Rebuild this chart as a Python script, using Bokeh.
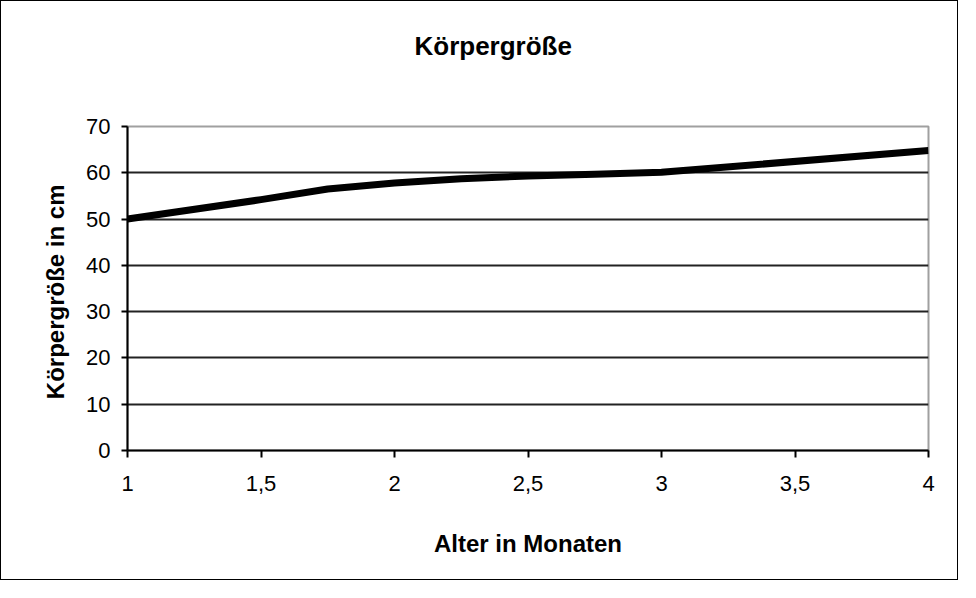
from bokeh.plotting import figure
from bokeh.models import FixedTicker, CustomJSTickFormatter, Range1d, Title
from bokeh.embed import file_html
from bokeh.resources import INLINE

# Data
months = [1, 1.5, 1.75, 2, 2.25, 2.5, 2.75, 3, 4]
height_cm = [50, 54.2, 56.5, 57.8, 58.7, 59.3, 59.7, 60.1, 64.8]

x_ticks = [1, 1.5, 2, 2.5, 3, 3.5, 4]
y_ticks = [0, 10, 20, 30, 40, 50, 60, 70]
grid_ticks = [10, 20, 30, 40, 50, 60]
title_text = "Körpergröße"

FONT = "Liberation Sans"

p = figure(width=958, height=580, output_backend="svg", toolbar_location=None,
           x_range=Range1d(1, 4), y_range=Range1d(0, 70),
           min_border_left=126, min_border_right=31,
           min_border_top=125, min_border_bottom=131)
p.title = None

p.styles = {"border": "1px solid black"}
p.background_fill_color = "white"
p.border_fill_color = "white"
p.outline_line_color = "#a0a0a0"
p.outline_line_width = 2

# spacer panel between frame and title, then the title itself
p.add_layout(Title(text=" ", text_font_size="10px", standoff=48), "above")
p.add_layout(Title(text=title_text, text_font=FONT, text_font_size="26px",
                   text_font_style="bold", text_color="black",
                   align="left", offset=287, standoff=10), "above")

p.line(months, height_cm, line_color="black", line_width=7, line_join="round")

p.xaxis.ticker = FixedTicker(ticks=x_ticks)
p.yaxis.ticker = FixedTicker(ticks=y_ticks)
p.xaxis.formatter = CustomJSTickFormatter(code="return tick.toString().replace('.', ',');")

for ax in (p.xaxis, p.yaxis):
    ax.axis_line_color = "black"
    ax.axis_line_width = 2
    ax.major_tick_line_color = "black"
    ax.major_tick_line_width = 2
    ax.major_tick_in = 0
    ax.minor_tick_line_color = None
    ax.major_label_text_font = FONT
    ax.major_label_text_font_size = "22px"
    ax.major_label_text_color = "black"
    ax.axis_label_text_font = FONT
    ax.axis_label_text_font_size = "24px"
    ax.axis_label_text_font_style = "bold"
    ax.axis_label_text_color = "black"

p.xaxis.major_tick_out = 7
p.yaxis.major_tick_out = 6
p.xaxis.major_label_standoff = 18
p.yaxis.major_label_standoff = 11
p.xaxis.axis_label = "Alter in Monaten"
p.yaxis.axis_label = "Körpergröße  in cm"
p.xaxis.axis_label_standoff = 36
p.yaxis.axis_label_standoff = 14

p.xgrid.grid_line_color = None
p.ygrid.ticker = FixedTicker(ticks=grid_ticks)
p.ygrid.grid_line_color = "#222222"
p.ygrid.grid_line_width = 2

open("out.html", "w").write(file_html(p, INLINE))
